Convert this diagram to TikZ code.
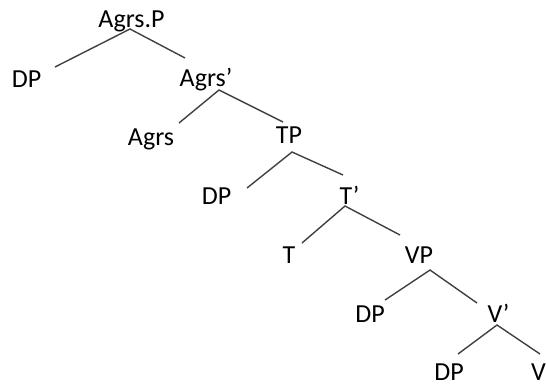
\documentclass[tikz,border=0pt]{standalone}
\usepackage{fontspec}
\setmainfont{Carlito}
\tikzset{
  cat/.style={inner sep=0pt, anchor=base, font=\fontsize{13}{15}\selectfont},
  branch/.style={black!75, line width=0.7pt}
}
\begin{document}
\begin{tikzpicture}[x=0.5pt, y=-0.5pt]
\useasboundingbox (0,0) rectangle (546,386);

\node[cat] (agrsp) at (131.5, 27) {Agrs.P};
\node[cat] (dpa) at (26.5, 87) {DP};
\node[cat] (agrsbar) at (206, 86) {Agrs’};
\node[cat] (agrs) at (151, 145) {Agrs};
\node[cat] (tp) at (289, 143) {TP};
\node[cat] (dpb) at (216.5, 204) {DP};
\node[cat] (tbar) at (349.5, 204) {T’};
\node[cat] (t) at (289, 263) {T};
\node[cat] (vp) at (419, 263) {VP};
\node[cat] (dpc) at (370, 322) {DP};
\node[cat] (vbar) at (498.5, 322) {V’};
\node[cat] (dpd) at (449, 380) {DP};
\node[cat] (v) at (538.5, 380) {V};

\draw[branch] ([shift={(28.5,-20)}]dpa.base) -- ([shift={(-1.5,2)}]agrsp.base) -- ([shift={(-21,-28)}]agrsbar.base);
\draw[branch] ([shift={(28,-22)}]agrs.base) -- ([shift={(13,4)}]agrsbar.base) -- ([shift={(-6,-21)}]tp.base);
\draw[branch] ([shift={(30.5,-16)}]dpb.base) -- ([shift={(3,9)}]tp.base) -- ([shift={(-6.5,-29)}]tbar.base);
\draw[branch] ([shift={(13,-20)}]t.base) -- ([shift={(-4.5,2)}]tbar.base) -- ([shift={(-19,-28)}]vp.base);
\draw[branch] ([shift={(15,-22)}]dpc.base) -- ([shift={(11,7)}]vp.base) -- ([shift={(-21.5,-19)}]vbar.base);
\draw[branch] ([shift={(9,-26)}]dpd.base) -- ([shift={(-1.5,3)}]vbar.base) -- ([shift={(1.5,-26)}]v.base);
\end{tikzpicture}
\end{document}
